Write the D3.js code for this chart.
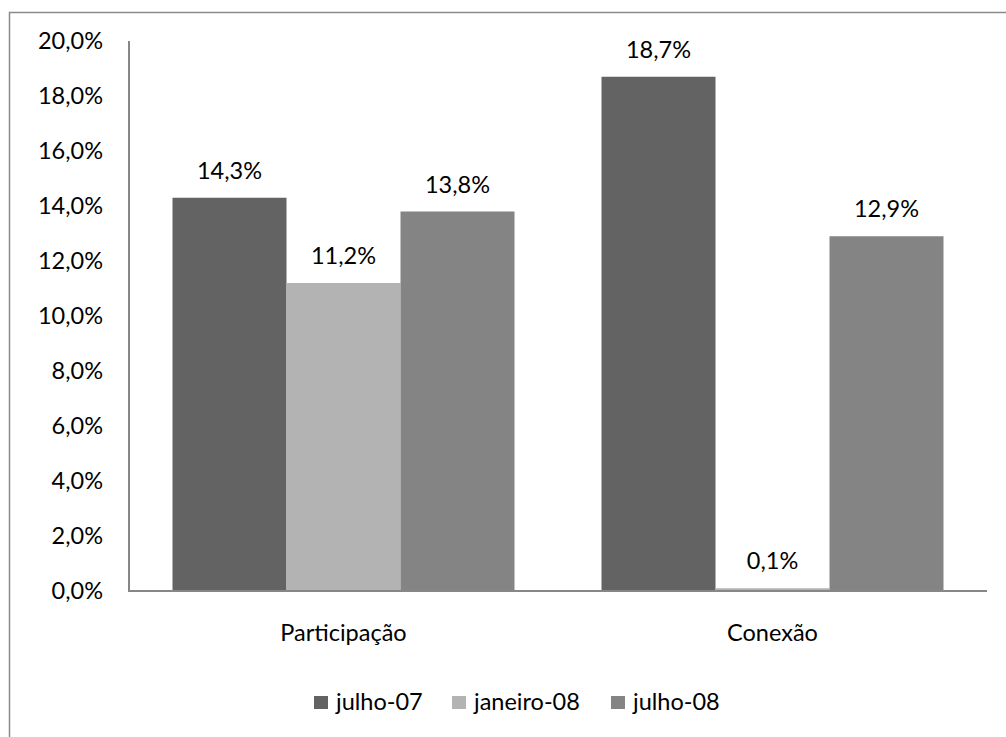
<!DOCTYPE html>
<html><head><meta charset="utf-8">
<script src="https://cdn.jsdelivr.net/npm/d3@7/dist/d3.min.js"></script>
<style>body{margin:0;background:#fff}svg{display:block}text{font-family:Lato,"Open Sans",sans-serif;fill:#000}</style>
</head><body><svg id="c" width="1006" height="737"></svg>
<script>
const categories = ["Participação", "Conexão"];
const seriesNames = ["julho-07", "janeiro-08", "julho-08"];
const julho07 = [14.3, 18.7];
const janeiro08 = [11.2, 0.1];
const julho08 = [13.8, 12.9];
const yTicks = [0, 2, 4, 6, 8, 10, 12, 14, 16, 18, 20];
const colors = ["#636363", "#b3b3b3", "#848484"];
const series = [julho07, janeiro08, julho08];
const fmt = v => v.toFixed(1).replace(".", ",") + "%";

(function () {
const fs = "23.5px";
const svg = d3.select("#c");
svg.append("rect").attr("x", 9.5).attr("y", 12.5).attr("width", 1010).attr("height", 740)
  .attr("fill", "none").attr("stroke", "#8a8a8a").attr("stroke-width", 1.5);

const pLeft = 129, pRight = 987, pTop = 41, pBottom = 591;
const y = d3.scaleLinear().domain([0, 20]).range([pBottom, pTop]);
const x0 = d3.scaleBand().domain(categories).range([pLeft, pRight]).paddingInner(87/429).paddingOuter(43.5/429);
const x1 = d3.scaleBand().domain(d3.range(3)).range([0, x0.bandwidth()]);

svg.append("g").selectAll("text").data(yTicks).join("text")
  .attr("x", 103).attr("y", d => y(d)).attr("dy", "0.35em").attr("text-anchor", "end")
  .style("font-size", fs).text(d => fmt(d));

const g = svg.append("g");
categories.forEach((c, ci) => {
  series.forEach((s, si) => {
    const bx = x0(c) + x1(si);
    g.append("rect").attr("x", bx).attr("y", y(s[ci])).attr("width", x1.bandwidth())
      .attr("height", y(0) - y(s[ci])).attr("fill", colors[si]);
    g.append("text").attr("x", bx + x1.bandwidth() / 2).attr("y", y(s[ci]) - 19)
      .attr("text-anchor", "middle").style("font-size", fs).text(fmt(s[ci]));
  });
  svg.append("text").attr("x", x0(c) + x0.bandwidth() / 2).attr("y", 641)
    .attr("text-anchor", "middle").style("font-size", fs).text(c);
});

svg.append("line").attr("x1", pLeft).attr("x2", pLeft).attr("y1", pTop).attr("y2", pBottom + 1)
  .attr("stroke", "#878787").attr("stroke-width", 2);
svg.append("line").attr("x1", pLeft).attr("x2", pRight).attr("y1", pBottom).attr("y2", pBottom)
  .attr("stroke", "#878787").attr("stroke-width", 2);

const legendX = [314, 452, 611];
const lg = svg.append("g");
seriesNames.forEach((n, i) => {
  lg.append("rect").attr("x", legendX[i]).attr("y", 696).attr("width", 14).attr("height", 13).attr("fill", colors[i]);
  lg.append("text").attr("x", legendX[i] + 22).attr("y", 710).style("font-size", fs).text(n);
});
})();
</script></body></html>
